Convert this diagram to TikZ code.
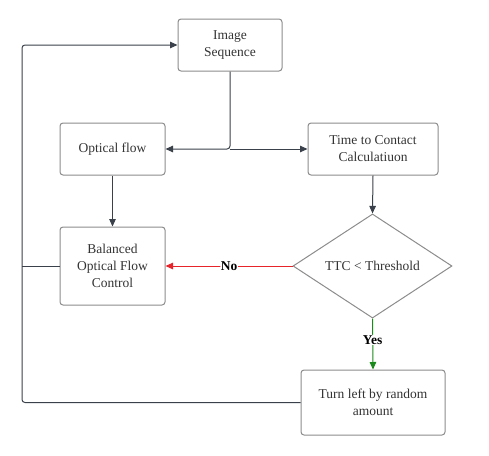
\documentclass[tikz,border=0pt]{standalone}
\usepackage{fontspec}
\setmainfont{Liberation Serif}
\usetikzlibrary{shapes.geometric,arrows.meta}
\definecolor{boxline}{HTML}{8C8C8C}
\definecolor{arrowc}{HTML}{3A414A}
\definecolor{txt}{HTML}{333333}
\definecolor{nored}{HTML}{E8242B}
\definecolor{yesgreen}{HTML}{1A8A1A}
\begin{document}
\begin{tikzpicture}[x=1pt,y=-1pt,
  every node/.style={font=\fontsize{13.5}{17}\selectfont, text=txt},
  box/.style={draw=boxline, line width=1pt, rounded corners=3pt, align=center, inner sep=0pt},
  conn/.style={draw=arrowc, line width=1pt, rounded corners=3pt, -{Triangle[length=7.5pt,width=6.5pt]}},
  lab/.style={font=\bfseries\fontsize{13.5}{17}\selectfont, text=black, fill=white, inner sep=0.5pt}]
\useasboundingbox (0,0) rectangle (489,455);
\node[box, minimum width=104pt, minimum height=52pt] (img) at (230,45) {Image\\Sequence};
\node[box, minimum width=105pt, minimum height=52pt] (of) at (112.5,149) {Optical flow};
\node[box, minimum width=130pt, minimum height=52pt] (ttc) at (373,149) {Time to Contact\\Calculatiuon};
\node[box, minimum width=105pt, minimum height=78pt] (bal) at (112.5,266) {Balanced\\Optical Flow\\Control};
\node[draw=boxline, line width=1pt, shape=diamond, minimum width=159pt, minimum height=76pt, inner sep=0pt] (dia) at (372.5,266) {TTC < Threshold};
\node[box, minimum width=144pt, minimum height=65pt] (turn) at (373,402.5) {Turn left by random\\amount};
\coordinate (split) at (230,149);
\coordinate (tl) at (22,45);
\coordinate (bl) at (22,402.5);
\coordinate (ml) at (22,266);
\draw[conn] (img.south) -- (split) -- (of.east);
\draw[conn] (split) -- (ttc.west);
\draw[conn] (of.south) -- (bal.north);
\draw[conn] (ttc.south) -- (dia.north);
\draw[conn] (turn.west) -- (bl) -- (tl) -- (img.west);
\draw[draw=arrowc, line width=1pt] (bal.west) -- (ml);
\draw[conn, draw=nored, -{Triangle[length=7.5pt,width=6.5pt,fill=nored]}] (dia.west) -- node[lab]{No} (bal.east);
\draw[conn, draw=yesgreen, -{Triangle[length=7.5pt,width=6.5pt,fill=yesgreen]}] (dia.south) -- node[lab, pos=0.42]{Yes} (turn.north);
\end{tikzpicture}
\end{document}
